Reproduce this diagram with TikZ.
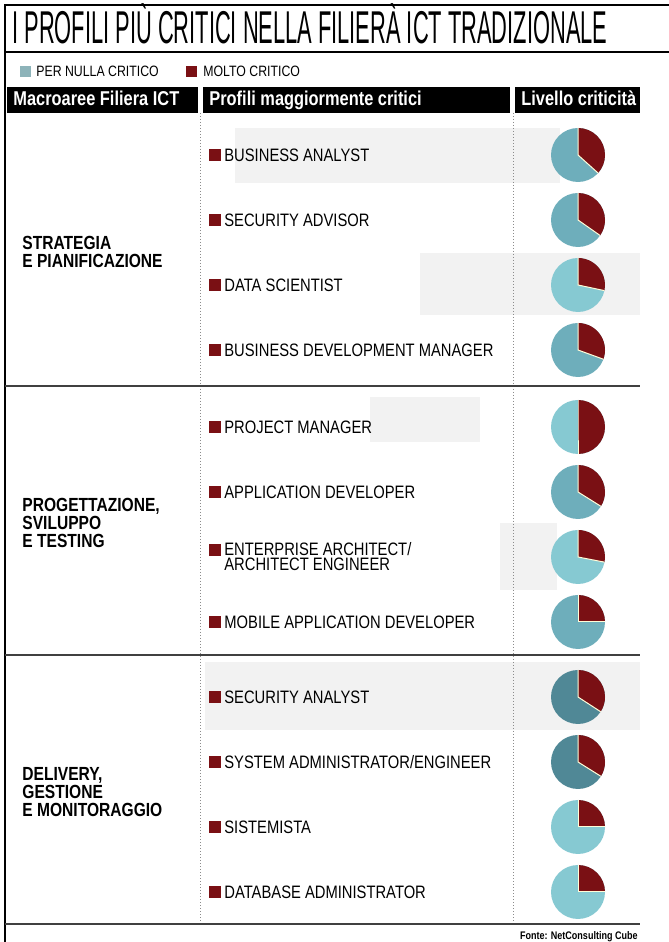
\documentclass[tikz,border=0pt]{standalone}
\usepackage{fontspec}
\setmainfont{Liberation Sans}
\newfontfamily\condfont[FakeStretch=0.82]{Liberation Sans}
\newfontfamily\titlefont[FakeStretch=0.475]{Liberation Sans}
\usetikzlibrary{calc, positioning}

\definecolor{critred}{RGB}{122, 16, 20}
\definecolor{tealpale}{RGB}{134, 201, 210}
\definecolor{tealmid}{RGB}{110, 174, 187}
\definecolor{tealdark}{RGB}{80, 136, 150}
\definecolor{legendteal}{RGB}{141, 179, 185}

% small red square in front of each profile
\newcommand{\critmark}{\textcolor{critred}{\rule{6pt}{6pt}}\hspace{1.5pt}}

% pie: centre, end angle of the red slice, colour of the rest
\newcommand{\critpie}[3]{%
  \fill[#3] (#1) circle[radius=\pieradius];
  \fill[critred] (#1) -- ($(#1)+(90:\pieradius)$)
    arc[start angle=90, end angle=#2, radius=\pieradius] -- cycle;
  \draw[white!85!yellow, line width=0.5pt]
    ($(#1)+(90:\pieradius)$) -- (#1) -- ($(#1)+(#2:\pieradius)$);
}

\tikzset{
  headbox/.style={fill=black},
  headtext/.style={text=white, inner sep=0, anchor=base west,
    font=\condfont\bfseries\fontsize{10}{10}\selectfont},
  profile/.style={inner sep=0, anchor=west, align=left,
    font=\condfont\fontsize{9}{7.5}\selectfont},
  area/.style={inner sep=0, anchor=west, align=left,
    font=\condfont\bfseries\fontsize{9.5}{9}\selectfont},
  legtext/.style={inner sep=0, anchor=base west,
    font=\condfont\fontsize{7.5}{7.5}\selectfont},
  rowline/.style={draw=black!75, line width=0.7pt},
  colline/.style={draw=black!45, densely dotted, line width=0.5pt},
  band/.style={fill=black!5}
}

\begin{document}
\begin{tikzpicture}[x=0.5pt, y=0.5pt]
  % Define constants
  \def\pieradius{27}
  \def\piex{578}
  \def\tableright{640}

  \useasboundingbox (0,0) rectangle (669,942);

  % Define key coordinates
  \coordinate (origin) at (5,0);
  \coordinate (topleft) at (5,937);
  \coordinate (topright) at (669,937);

  % Greyish screen behind some rows
  \fill[band] (235,759) rectangle (560,814);
  \fill[band] (420,627) rectangle (\tableright,689);
  \fill[band] (370,500) rectangle (480,545);
  \fill[band] (500,352) rectangle (557,419);
  \fill[band] (205,212) rectangle (\tableright,280);

  % Frame and title
  \draw[line width=1pt] (origin) -- (topleft) -- (topright);
  \draw[line width=1.1pt] (5,890) -- (669,890);
  \node[inner sep=0, anchor=base west, font=\titlefont\fontsize{23}{23}\selectfont]
    (title) at (12,898) {I PROFILI PIÙ CRITICI NELLA FILIERÀ ICT TRADIZIONALE};

  % Legend
  \fill[legendteal] (20,865) rectangle (31,876);
  \node[legtext] (legnulla) at (36,865) {PER NULLA CRITICO};
  \fill[critred] (186,865) rectangle (197,876);
  \node[legtext] (legmolto) at (203,865) {MOLTO CRITICO};

  % Header bar
  \fill[headbox] (7,829) rectangle (198,855);
  \fill[headbox] (203,829) rectangle (510,855);
  \fill[headbox] (515,829) rectangle (\tableright,855);
  \node[headtext] (hmacro) at (13,836) {Macroaree Filiera ICT};
  \node[headtext] (hprofili) at (209,836) {Profili maggiormente critici};
  \node[headtext] (hlivello) at (521,836) {Livello criticità};

  % Column separators
  \draw[colline] (200,829) -- (200,18);
  \draw[colline] (513,829) -- (513,18);

  % Section rules
  \draw[rowline] (5,556) -- (\tableright,556);
  \draw[rowline] (5,287) -- (\tableright,287);
  \draw[rowline] (5,18) -- (\tableright,18);

  % Strategia e pianificazione
  \node[area] (strategia) at (22,690) {STRATEGIA\\E PIANIFICAZIONE};
  \node[profile] (banalyst) at (209,787) {\critmark BUSINESS ANALYST};
  \node[profile] (secadvisor) at (209,722) {\critmark SECURITY ADVISOR};
  \node[profile] (datasci) at (209,657) {\critmark DATA SCIENTIST};
  \node[profile] (bizdev) at (209,592) {\critmark BUSINESS DEVELOPMENT MANAGER};
  \critpie{\piex,787}{-42}{tealmid}
  \critpie{\piex,722}{-35}{tealmid}
  \critpie{\piex,657}{-12}{tealpale}
  \critpie{\piex,592}{-20}{tealmid}

  % Progettazione, sviluppo e testing
  \node[area] (progetto) at (22,419) {PROGETTAZIONE,\\SVILUPPO\\E TESTING};
  \node[profile] (projman) at (209,515) {\critmark PROJECT MANAGER};
  \node[profile] (appdev) at (209,450) {\critmark APPLICATION DEVELOPER};
  \node[profile] (entarch) at (209,385)
    {\critmark ENTERPRISE ARCHITECT/\\\hphantom{\critmark}ARCHITECT ENGINEER};
  \node[profile] (mobiledev) at (209,320) {\critmark MOBILE APPLICATION DEVELOPER};
  \critpie{\piex,515}{-90}{tealpale}
  \critpie{\piex,450}{-32}{tealmid}
  \critpie{\piex,385}{-11}{tealpale}
  \critpie{\piex,320}{0}{tealmid}

  % Delivery, gestione e monitoraggio
  \node[area] (delivery) at (22,150) {DELIVERY,\\GESTIONE\\E MONITORAGGIO};
  \node[profile] (secanalyst) at (209,245) {\critmark SECURITY ANALYST};
  \node[profile] (sysadmin) at (209,180) {\critmark SYSTEM ADMINISTRATOR/ENGINEER};
  \node[profile] (sistemista) at (209,115) {\critmark SISTEMISTA};
  \node[profile] (dbadmin) at (209,50) {\critmark DATABASE ADMINISTRATOR};
  \critpie{\piex,245}{-33}{tealdark}
  \critpie{\piex,180}{-32}{tealdark}
  \critpie{\piex,115}{0}{tealpale}
  \critpie{\piex,50}{0}{tealpale}

  % Source
  \node[inner sep=0, anchor=base east, font=\condfont\bfseries\fontsize{5.5}{5.5}\selectfont]
    (fonte) at (638,3) {Fonte: NetConsulting Cube};
\end{tikzpicture}
\end{document}
